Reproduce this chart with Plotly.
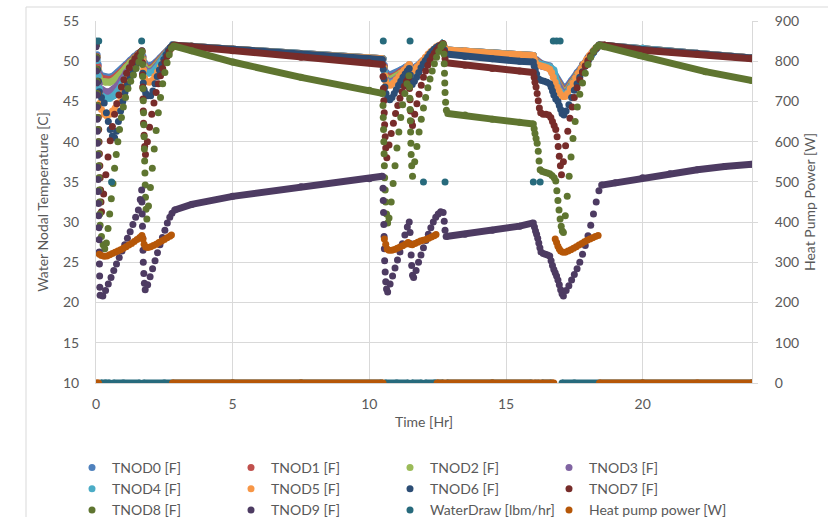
import plotly.graph_objects as go

# ---------------- data (time [h], value) ----------------
# shared time base for the upper nodes TNOD0..TNOD4 (mostly hidden under later series)
t_up = [0.0, 0.04, 0.08, 0.12, 0.2, 0.35, 0.5, 0.65, 0.8, 0.95, 1.1, 1.25, 1.4, 1.55, 1.68,
        1.72, 1.78, 1.9, 2.05, 2.2, 2.35, 2.5, 2.65, 2.8, 5.0, 7.5, 10.5, 10.55, 10.62, 10.75,
        10.95, 11.15, 11.35, 11.47, 11.53, 11.7, 11.9, 12.1, 12.3, 12.5, 12.65, 12.8, 14.5, 16.0,
        16.1, 16.3, 16.6, 16.75, 16.9, 17.05, 17.2, 17.4, 17.6, 17.8, 18.0, 18.2, 18.42, 20.0, 24.0]

TNOD0 = [52.0, 50.8, 49.6, 48.6, 48.2, 48.0, 48.0, 48.2, 48.6, 49.1, 49.6, 50.1, 50.6, 51.0, 51.3,
         50.6, 49.8, 49.4, 49.5, 49.9, 50.4, 50.9, 51.4, 52.0, 51.5, 50.9, 50.3, 49.5, 48.6, 48.3,
         48.5, 48.9, 49.3, 49.6, 49.1, 49.3, 49.9, 50.5, 51.1, 51.7, 52.1, 51.4, 51.0, 50.7,
         50.2, 49.7, 49.4, 48.6, 47.6, 46.9, 46.7, 47.6, 48.6, 49.6, 50.5, 51.3, 52.0, 51.6, 50.4]
TNOD1 = [52.0, 50.6, 49.3, 48.3, 47.9, 47.7, 47.7, 47.9, 48.3, 48.8, 49.4, 49.9, 50.4, 50.9, 51.2,
         50.4, 49.5, 49.1, 49.2, 49.7, 50.2, 50.8, 51.3, 52.0, 51.5, 50.9, 50.3, 49.3, 48.3, 48.0,
         48.2, 48.7, 49.1, 49.5, 48.9, 49.1, 49.7, 50.4, 51.0, 51.6, 52.1, 51.4, 51.0, 50.7,
         50.1, 49.6, 49.3, 48.4, 47.3, 46.6, 46.4, 47.4, 48.4, 49.5, 50.4, 51.2, 52.0, 51.6, 50.4]
TNOD2 = [52.0, 50.5, 49.0, 48.0, 47.5, 47.4, 47.4, 47.6, 48.0, 48.6, 49.2, 49.8, 50.3, 50.8, 51.2,
         50.2, 49.3, 48.9, 49.0, 49.5, 50.1, 50.7, 51.3, 52.0, 51.5, 50.9, 50.3, 49.1, 48.0, 47.7,
         48.0, 48.5, 49.0, 49.4, 48.8, 49.0, 49.6, 50.3, 51.0, 51.6, 52.1, 51.4, 51.0, 50.7,
         50.0, 49.5, 49.2, 48.2, 47.0, 46.4, 46.2, 47.2, 48.3, 49.4, 50.3, 51.2, 52.0, 51.6, 50.4]
TNOD3 = [52.0, 50.3, 48.6, 47.2, 46.5, 46.2, 46.2, 46.5, 47.0, 47.8, 48.6, 49.3, 50.0, 50.6, 51.1,
         50.0, 49.0, 48.7, 48.8, 49.3, 49.9, 50.6, 51.2, 52.0, 51.5, 50.9, 50.3, 48.9, 47.7, 47.4,
         47.7, 48.3, 48.8, 49.3, 48.7, 48.9, 49.5, 50.2, 50.9, 51.6, 52.1, 51.4, 51.0, 50.7,
         49.9, 49.4, 49.1, 48.0, 46.8, 46.2, 46.0, 47.0, 48.1, 49.3, 50.3, 51.1, 52.0, 51.6, 50.4]
TNOD4 = [52.0, 50.1, 48.2, 46.6, 45.7, 45.4, 45.4, 45.7, 46.3, 47.2, 48.1, 48.9, 49.7, 50.4, 51.0,
         49.8, 48.7, 48.5, 48.6, 49.1, 49.8, 50.5, 51.1, 52.0, 51.5, 50.9, 50.3, 48.7, 47.5, 47.2,
         47.5, 48.1, 48.7, 49.2, 48.6, 48.8, 49.4, 50.1, 50.9, 51.5, 52.1, 51.4, 51.0, 50.7,
         49.8, 49.6, 49.3, 48.9, 46.6, 46.0, 45.8, 46.9, 48.0, 49.2, 50.2, 51.1, 52.0, 51.6, 50.4]

TNOD5 = [(0.0, 52.0), (0.03, 50.5), (0.06, 49.0), (0.09, 47.5), (0.12, 46.0), (0.15, 44.8), (0.2, 44.0),
         (0.3, 43.4), (0.4, 43.2), (0.5, 43.4), (0.6, 43.8), (0.7, 44.2), (0.8, 44.8), (0.9, 45.6),
         (1.0, 46.5), (1.1, 47.3), (1.2, 48.1), (1.3, 48.8), (1.4, 49.5), (1.5, 50.1), (1.6, 50.7),
         (1.68, 51.1), (1.71, 50.0), (1.74, 48.9), (1.78, 47.9), (1.85, 47.5), (1.95, 47.4), (2.05, 47.6),
         (2.15, 48.1), (2.25, 48.7), (2.35, 49.3), (2.45, 49.9), (2.55, 50.5), (2.65, 51.1), (2.75, 51.6),
         (2.85, 52.0), (3.5, 51.9), (5.0, 51.5), (7.5, 50.9), (10.0, 50.4), (10.48, 50.3),
         (10.52, 49.2), (10.56, 48.2), (10.6, 47.5), (10.68, 47.0), (10.78, 47.0), (10.88, 47.3),
         (10.98, 47.7), (11.08, 48.1), (11.18, 48.5), (11.28, 48.9), (11.38, 49.3), (11.46, 49.6),
         (11.5, 49.0), (11.55, 48.7), (11.65, 48.9), (11.75, 49.3), (11.85, 49.7), (11.95, 50.1),
         (12.05, 50.5), (12.15, 50.9), (12.25, 51.2), (12.35, 51.5), (12.45, 51.8), (12.55, 52.0),
         (12.65, 52.1), (12.75, 51.8), (12.8, 51.4), (13.5, 51.3), (14.5, 51.0), (15.5, 50.8),
         (16.0, 50.7), (16.03, 50.3), (16.07, 49.9), (16.12, 49.6), (16.2, 49.5), (16.3, 49.4),
         (16.4, 49.3), (16.5, 49.2), (16.6, 49.0), (16.67, 48.6), (16.73, 48.0), (16.8, 47.4),
         (16.87, 46.8), (16.94, 46.3), (17.0, 45.9), (17.08, 45.6), (17.16, 45.6), (17.25, 46.0),
         (17.35, 46.6), (17.45, 47.3), (17.55, 47.9), (17.65, 48.5), (17.75, 49.1), (17.85, 49.7),
         (17.95, 50.2), (18.05, 50.7), (18.15, 51.1), (18.25, 51.5), (18.35, 51.8), (18.42, 52.0),
         (18.6, 52.0), (19.9, 51.5), (22.0, 50.9), (24.0, 50.4)]

TNOD6 = [(0.0, 52.0), (0.03, 50.5), (0.06, 49.0), (0.09, 47.5), (0.12, 46.2), (0.2, 45.5), (0.3, 44.8),
         (0.38, 43.6), (0.45, 42.5), (0.52, 41.5), (0.6, 40.7), (0.68, 40.5), (0.75, 41.3), (0.82, 42.5),
         (0.9, 43.8), (0.98, 45.0), (1.06, 46.1), (1.15, 47.1), (1.25, 48.0), (1.35, 48.8), (1.45, 49.6),
         (1.55, 50.3), (1.65, 51.0), (1.69, 49.8), (1.71, 48.5), (1.73, 47.3), (1.76, 46.5), (1.82, 46.0),
         (1.9, 45.7), (2.0, 45.7), (2.08, 46.3), (2.16, 47.2), (2.24, 48.1), (2.32, 48.9), (2.4, 49.6),
         (2.48, 50.2), (2.56, 50.8), (2.64, 51.3), (2.72, 51.7), (2.8, 52.0), (3.5, 51.9), (5.0, 51.5),
         (7.5, 50.9), (10.0, 50.3), (10.48, 50.2), (10.51, 49.0), (10.54, 47.8), (10.57, 46.8),
         (10.61, 46.0), (10.67, 45.4), (10.75, 45.2), (10.83, 45.5), (10.91, 46.0), (10.99, 46.5),
         (11.07, 47.0), (11.15, 47.5), (11.23, 48.0), (11.31, 48.4), (11.39, 48.8), (11.46, 49.1),
         (11.5, 48.3), (11.53, 47.5), (11.57, 47.1), (11.65, 47.5), (11.73, 48.0), (11.81, 48.6),
         (11.89, 49.2), (11.97, 49.7), (12.05, 50.1), (12.13, 50.5), (12.21, 50.9), (12.29, 51.2),
         (12.37, 51.5), (12.45, 51.7), (12.53, 51.9), (12.61, 52.0), (12.7, 52.1), (12.75, 51.4),
         (12.8, 50.9), (13.5, 50.6), (14.5, 50.3), (15.5, 50.0), (16.0, 49.9), (16.03, 49.4),
         (16.07, 48.9), (16.12, 48.4), (16.2, 47.8), (16.3, 47.6), (16.4, 47.5), (16.5, 47.4),
         (16.6, 47.2), (16.65, 46.8), (16.7, 46.3), (16.75, 45.8), (16.82, 45.3), (16.9, 45.0),
         (16.95, 44.5), (17.0, 44.0), (17.05, 43.5), (17.12, 43.3), (17.2, 43.8), (17.3, 44.6),
         (17.4, 45.5), (17.5, 46.4), (17.6, 47.2), (17.7, 48.0), (17.8, 48.7), (17.9, 49.4),
         (18.0, 50.0), (18.1, 50.6), (18.2, 51.1), (18.3, 51.6), (18.4, 52.0), (18.6, 52.0),
         (19.9, 51.5), (22.0, 51.0), (24.0, 50.4)]

TNOD7 = [(0.0, 52.0), (0.014, 50.5), (0.028, 49.0), (0.042, 47.5), (0.056, 46.0), (0.07, 44.5),
         (0.084, 43.0), (0.098, 41.5), (0.112, 40.0), (0.126, 38.5), (0.14, 37.0), (0.154, 35.5),
         (0.168, 34.0), (0.182, 32.5), (0.2, 31.3), (0.28, 33.5), (0.36, 35.9), (0.44, 38.1),
         (0.52, 40.1), (0.6, 41.9), (0.68, 43.4), (0.76, 44.7), (0.84, 45.8), (0.93, 46.8),
         (1.02, 47.7), (1.12, 48.5), (1.22, 49.2), (1.32, 49.8), (1.42, 50.3), (1.52, 50.7),
         (1.62, 51.1), (1.68, 51.3), (1.69, 49.8), (1.7, 48.3), (1.71, 46.8), (1.72, 45.3),
         (1.73, 43.8), (1.74, 42.3), (1.76, 40.8), (1.78, 39.4), (1.81, 38.4), (1.88, 40.0),
         (1.96, 41.8), (2.04, 43.4), (2.12, 44.8), (2.2, 46.1), (2.28, 47.2), (2.36, 48.2),
         (2.44, 49.1), (2.52, 49.9), (2.6, 50.6), (2.68, 51.2), (2.76, 51.7), (2.84, 52.0),
         (3.5, 51.8), (5.0, 51.3), (7.5, 50.5), (10.0, 49.8), (10.48, 49.6), (10.5, 48.1),
         (10.515, 46.6), (10.53, 45.1), (10.545, 43.6), (10.56, 42.1), (10.58, 40.6), (10.6, 39.2),
         (10.64, 38.0), (10.72, 39.6), (10.8, 41.0), (10.88, 42.3), (10.96, 43.5), (11.04, 44.5),
         (11.12, 45.4), (11.2, 46.2), (11.28, 46.9), (11.36, 47.5), (11.44, 48.0), (11.47, 46.6),
         (11.49, 45.2), (11.51, 43.8), (11.54, 42.5), (11.58, 42.0), (11.66, 43.4), (11.74, 44.7),
         (11.82, 45.9), (11.9, 47.0), (11.98, 48.0), (12.06, 48.8), (12.14, 49.5), (12.22, 50.1),
         (12.3, 50.6), (12.38, 51.0), (12.46, 51.4), (12.54, 51.7), (12.62, 52.0), (12.7, 52.2),
         (12.74, 51.2), (12.77, 50.3), (12.81, 49.8), (13.5, 49.5), (14.5, 49.1), (15.5, 48.8),
         (16.0, 48.6), (16.03, 48.0), (16.06, 47.4), (16.1, 46.8), (16.14, 46.0), (16.18, 45.1),
         (16.22, 44.2), (16.27, 43.6), (16.36, 43.4), (16.46, 43.4), (16.56, 43.3), (16.64, 43.0),
         (16.7, 42.5), (16.76, 42.0), (16.82, 41.5), (16.87, 40.6), (16.91, 39.4), (16.95, 38.2),
         (16.99, 37.0), (17.03, 35.9), (17.1, 37.5), (17.18, 39.5), (17.26, 41.3), (17.34, 42.9),
         (17.42, 44.3), (17.5, 45.5), (17.6, 46.7), (17.7, 47.7), (17.8, 48.6), (17.9, 49.4),
         (18.0, 50.1), (18.1, 50.7), (18.2, 51.2), (18.3, 51.6), (18.4, 52.0), (18.6, 52.0),
         (19.9, 51.4), (22.0, 50.9), (24.0, 50.3)]

TNOD8 = [(0.0, 52.0), (0.01, 50.5), (0.02, 49.0), (0.03, 47.5), (0.04, 46.0), (0.05, 44.5), (0.06, 43.0),
         (0.07, 41.5), (0.08, 40.0), (0.09, 38.5), (0.1, 37.0), (0.11, 35.5), (0.12, 34.0), (0.13, 32.5),
         (0.14, 31.0), (0.15, 29.6), (0.2, 28.2), (0.26, 27.2), (0.32, 26.7), (0.38, 27.4), (0.44, 29.2),
         (0.5, 31.0), (0.56, 32.9), (0.62, 34.8), (0.68, 36.7), (0.74, 38.4), (0.8, 40.0), (0.86, 41.5),
         (0.93, 43.0), (1.0, 44.3), (1.08, 45.5), (1.17, 46.6), (1.27, 47.5), (1.37, 48.3), (1.47, 49.1),
         (1.57, 49.9), (1.64, 50.6), (1.68, 51.2), (1.7, 49.6), (1.71, 48.1), (1.72, 46.6), (1.73, 45.1),
         (1.74, 43.6), (1.75, 42.1), (1.76, 40.6), (1.77, 39.1), (1.78, 37.6), (1.79, 36.1), (1.8, 34.6),
         (1.81, 33.1), (1.83, 31.6), (1.86, 30.4), (1.92, 32.0), (1.99, 34.3), (2.06, 36.7), (2.13, 39.1),
         (2.2, 41.4), (2.28, 43.6), (2.36, 45.5), (2.44, 47.2), (2.52, 48.6), (2.6, 49.8), (2.68, 50.8),
         (2.76, 51.6), (2.84, 51.9), (3.5, 51.3), (5.0, 49.9), (7.5, 48.0), (10.0, 46.4), (10.48, 46.0),
         (10.5, 44.5), (10.51, 43.0), (10.52, 41.5), (10.53, 40.0), (10.54, 38.5), (10.55, 37.0),
         (10.56, 35.5), (10.58, 34.0), (10.6, 32.5), (10.63, 31.0), (10.67, 29.9), (10.72, 30.5),
         (10.8, 32.5), (10.87, 34.8), (10.94, 37.0), (11.01, 39.2), (11.08, 41.2), (11.15, 43.0),
         (11.22, 44.6), (11.3, 46.0), (11.38, 47.2), (11.45, 48.2), (11.47, 46.8), (11.48, 45.4),
         (11.49, 44.0), (11.5, 42.6), (11.51, 41.2), (11.52, 39.8), (11.53, 38.4), (11.55, 37.0),
         (11.58, 35.7), (11.66, 37.5), (11.74, 39.4), (11.82, 41.2), (11.9, 42.8), (11.98, 44.2),
         (12.06, 45.5), (12.14, 46.7), (12.22, 47.8), (12.3, 48.8), (12.38, 49.7), (12.46, 50.5),
         (12.54, 51.2), (12.62, 51.8), (12.7, 52.1), (12.73, 50.9), (12.74, 49.7), (12.75, 48.5),
         (12.76, 47.3), (12.77, 46.1), (12.79, 44.9), (12.82, 43.9), (12.87, 43.5), (13.5, 43.3),
         (14.5, 42.8), (15.5, 42.4), (16.0, 42.2), (16.03, 41.6), (16.06, 41.0), (16.1, 40.4),
         (16.14, 39.8), (16.18, 38.8), (16.21, 37.6), (16.25, 36.5), (16.33, 36.3), (16.42, 36.2),
         (16.51, 36.1), (16.6, 36.0), (16.68, 35.8), (16.76, 35.5), (16.82, 35.1), (16.86, 33.9),
         (16.9, 32.7), (16.94, 31.5), (16.98, 30.4), (17.02, 29.5), (17.06, 28.9), (17.1, 28.7),
         (17.17, 30.8), (17.24, 33.2), (17.31, 35.7), (17.38, 38.1), (17.45, 40.4), (17.53, 42.5),
         (17.61, 44.3), (17.7, 45.9), (17.8, 47.3), (17.9, 48.5), (18.0, 49.6), (18.1, 50.5),
         (18.2, 51.2), (18.3, 51.7), (18.4, 52.0), (18.6, 51.8), (19.9, 50.7), (22.3, 48.7),
         (24.0, 47.6)]

TNOD9 = [(0.0, 51.8), (0.007, 50.3), (0.014, 48.8), (0.021, 47.3), (0.028, 45.8), (0.035, 44.3),
         (0.042, 42.8), (0.049, 41.3), (0.056, 39.8), (0.063, 38.3), (0.07, 36.8), (0.077, 35.3),
         (0.084, 33.8), (0.091, 32.3), (0.098, 30.8), (0.105, 29.3), (0.112, 27.8), (0.119, 26.3),
         (0.126, 24.8), (0.133, 23.3), (0.14, 21.9), (0.15, 20.9), (0.25, 20.8), (0.35, 21.5),
         (0.45, 22.3), (0.55, 23.1), (0.65, 24.0), (0.75, 24.8), (0.85, 25.6), (0.95, 26.4),
         (1.05, 27.2), (1.15, 28.0), (1.25, 28.8), (1.35, 29.7), (1.45, 30.6), (1.55, 31.5),
         (1.62, 32.8), (1.67, 34.0), (1.68, 32.5), (1.69, 31.0), (1.7, 29.5), (1.71, 28.0),
         (1.72, 26.5), (1.73, 25.0), (1.75, 23.6), (1.77, 22.4), (1.8, 21.6), (1.89, 22.2),
         (1.98, 23.2), (2.07, 24.2), (2.16, 25.2), (2.25, 26.2), (2.34, 27.2), (2.43, 28.1),
         (2.52, 29.0), (2.61, 29.9), (2.7, 30.6), (2.78, 31.1), (2.88, 31.5), (3.5, 32.2),
         (5.0, 33.2), (7.5, 34.4), (10.0, 35.4), (10.48, 35.7), (10.5, 34.2), (10.51, 32.7),
         (10.52, 31.2), (10.53, 29.7), (10.54, 28.2), (10.55, 26.7), (10.56, 25.2), (10.58, 23.8),
         (10.6, 22.6), (10.63, 21.7), (10.67, 21.3), (10.76, 22.3), (10.85, 23.3), (10.94, 24.3),
         (11.03, 25.3), (11.12, 26.3), (11.21, 27.3), (11.3, 28.4), (11.39, 29.4), (11.46, 30.0),
         (11.49, 28.7), (11.51, 27.3), (11.53, 25.9), (11.55, 24.6), (11.58, 23.4), (11.62, 23.1),
         (11.71, 24.0), (11.8, 25.0), (11.89, 25.9), (11.98, 26.8), (12.07, 27.7), (12.16, 28.5),
         (12.25, 29.3), (12.34, 30.0), (12.43, 30.6), (12.52, 31.0), (12.61, 31.3), (12.7, 31.2),
         (12.74, 30.1), (12.77, 29.0), (12.81, 28.2), (13.5, 28.5), (14.5, 29.0), (15.5, 29.5),
         (16.0, 29.9), (16.04, 29.4), (16.08, 28.9), (16.12, 28.5), (16.16, 28.0), (16.2, 27.4),
         (16.24, 26.8), (16.28, 26.3), (16.36, 26.1), (16.44, 26.0), (16.52, 25.9), (16.6, 25.8),
         (16.65, 25.2), (16.7, 24.6), (16.75, 24.1), (16.8, 23.7), (16.85, 23.3), (16.9, 22.8),
         (16.95, 22.2), (17.0, 21.6), (17.05, 21.1), (17.1, 20.8), (17.2, 21.5), (17.3, 22.1),
         (17.4, 22.8), (17.5, 23.5), (17.6, 24.2), (17.7, 25.0), (17.8, 26.0), (17.9, 27.1),
         (18.0, 28.3), (18.1, 29.6), (18.2, 31.0), (18.3, 32.5), (18.4, 33.9), (18.5, 34.6),
         (19.0, 34.9), (20.0, 35.5), (21.0, 36.0), (22.0, 36.5), (23.0, 36.9), (24.0, 37.2)]

WATER_DRAW = [(0.0, 850), (0.1, 850), (0.18, 0), (0.35, 0), (0.5, 0), (0.57, 500), (0.64, 0), (1.0, 0),
              (1.6, 0), (1.67, 850), (1.74, 0), (2.5, 0), (5.0, 0), (7.5, 0), (10.44, 0), (10.51, 850),
              (10.58, 0), (11.0, 0), (11.42, 0), (11.49, 850), (11.56, 0), (11.91, 0), (11.98, 500),
              (12.05, 0), (12.4, 0), (12.7, 0), (12.77, 500), (12.84, 0), (14.5, 0), (15.93, 0),
              (16.0, 500), (16.07, 0), (16.18, 0), (16.25, 500), (16.32, 0), (16.66, 0), (16.73, 850),
              (16.85, 850), (16.98, 850), (17.05, 0), (17.5, 0), (20.0, 0), (24.0, 0)]

HP_POWER = [(0.0, 0), (0.05, 0), (0.09, 0),
            (0.12, 320), (0.2, 317), (0.3, 315), (0.4, 316), (0.5, 319), (0.6, 322), (0.7, 325),
            (0.8, 328), (0.9, 331), (1.0, 335), (1.1, 339), (1.2, 343), (1.3, 347), (1.4, 352),
            (1.5, 357), (1.6, 362), (1.68, 367), (1.72, 358), (1.76, 345), (1.82, 338), (1.9, 337),
            (2.0, 339), (2.1, 342), (2.2, 345), (2.3, 349), (2.4, 353), (2.5, 357), (2.6, 361),
            (2.7, 365), (2.76, 368),
            (2.8, 0), (5.0, 0), (7.5, 0), (10.5, 0),
            (10.55, 358), (10.6, 345), (10.65, 333), (10.72, 330), (10.82, 330), (10.92, 332),
            (11.02, 335), (11.12, 338), (11.22, 341), (11.32, 345), (11.42, 349), (11.5, 345),
            (11.57, 344), (11.67, 347), (11.77, 350), (11.87, 353), (11.97, 355), (12.07, 357),
            (12.17, 360), (12.27, 363), (12.37, 366), (12.44, 369),
            (12.48, 0), (14.5, 0), (16.75, 0),
            (16.8, 358), (16.85, 349), (16.9, 340), (16.95, 333), (17.0, 328), (17.08, 325),
            (17.17, 325), (17.27, 328), (17.37, 331), (17.47, 335), (17.57, 339), (17.67, 343),
            (17.77, 347), (17.87, 351), (17.97, 355), (18.07, 358), (18.17, 361), (18.27, 364),
            (18.37, 367),
            (18.42, 0), (20.0, 0), (22.0, 0), (24.0, 0)]

# (legend text, points, colour, y axis, legend column)
SERIES = [
    ("TNOD0 [F]", list(zip(t_up, TNOD0)), "#4F81BD", "y", "legend"),
    ("TNOD1 [F]", list(zip(t_up, TNOD1)), "#C0504D", "y", "legend2"),
    ("TNOD2 [F]", list(zip(t_up, TNOD2)), "#9BBB59", "y", "legend3"),
    ("TNOD3 [F]", list(zip(t_up, TNOD3)), "#8064A2", "y", "legend4"),
    ("TNOD4 [F]", list(zip(t_up, TNOD4)), "#4BACC6", "y", "legend"),
    ("TNOD5 [F]", TNOD5, "#F79646", "y", "legend2"),
    ("TNOD6 [F]", TNOD6, "#2C4D75", "y", "legend3"),
    ("TNOD7 [F]", TNOD7, "#772C2A", "y", "legend4"),
    ("TNOD8 [F]", TNOD8, "#5F7530", "y", "legend"),
    ("TNOD9 [F]", TNOD9, "#4D3B62", "y", "legend2"),
    ("WaterDraw [lbm/hr]", WATER_DRAW, "#276A7C", "y2", "legend3"),
    ("Heat pump power [W]", HP_POWER, "#B65708", "y2", "legend4"),
]

X_TICKS = [0, 5, 10, 15, 20]
Y_TICKS = [10, 15, 20, 25, 30, 35, 40, 45, 50, 55]
Y2_TICKS = [0, 100, 200, 300, 400, 500, 600, 700, 800, 900]

FONT = "Lato, 'Open Sans', sans-serif"
GREY = "#595959"
GRID = "#D9D9D9"
MS = 7        # marker diameter (px)
GAP = 0.149   # long time steps -> overlapping dots, drawn as a solid band

fig = go.Figure()
for name, pts, color, yax, leg in SERIES:
    t = [p[0] for p in pts]
    v = [p[1] for p in pts]
    # consecutive points far apart in time are joined by a band as wide as the dots
    lx, ly = [], []
    run = False
    for i in range(len(t) - 1):
        if t[i + 1] - t[i] >= GAP:
            if not run:
                lx.append(t[i]); ly.append(v[i])
            lx.append(t[i + 1]); ly.append(v[i + 1])
            run = True
        elif run:
            lx.append(None); ly.append(None)
            run = False
    fig.add_trace(go.Scatter(x=lx, y=ly, mode="lines", yaxis=yax, showlegend=False,
                             hoverinfo="skip", line=dict(color=color, width=MS)))
    fig.add_trace(go.Scatter(x=t, y=v, mode="markers", name=name, yaxis=yax, legend=leg,
                             marker=dict(color=color, size=MS, line=dict(width=0))))

W, H = 828, 517
L, R, T, B = 96, 76, 21, 134
pw, ph = W - L - R, H - T - B

def px_x(px):
    return (px - L) / pw

def px_y(py):
    return (H - B - py) / ph

def legend_col(left_px):
    return dict(orientation="v", x=px_x(left_px), xanchor="left", y=px_y(452), yanchor="top",
                font=dict(size=14, color=GREY), bgcolor="rgba(0,0,0,0)", itemsizing="trace",
                tracegroupgap=0)

fig.update_layout(
    width=W, height=H,
    margin=dict(l=L, r=R, t=T, b=B, autoexpand=False),
    paper_bgcolor="white", plot_bgcolor="white",
    font=dict(family=FONT, size=14, color=GREY),
    showlegend=True,
    legend=legend_col(72), legend2=legend_col(231), legend3=legend_col(390),
    legend4=legend_col(549),
    xaxis=dict(range=[0, 24], tickmode="array", tickvals=X_TICKS, showgrid=True, gridcolor=GRID,
               gridwidth=1, zeroline=False, showline=True, linecolor=GRID, linewidth=1,
               ticks="", ticklabelstandoff=8, tickfont=dict(size=14, color=GREY),
               title=dict(text="Time [Hr]", standoff=6, font=dict(size=14, color=GREY))),
    yaxis=dict(range=[10, 55], tickmode="array", tickvals=Y_TICKS, showgrid=True, gridcolor=GRID,
               gridwidth=1, zeroline=False, showline=True, linecolor=GRID, linewidth=1,
               ticks="", ticklabelstandoff=13, tickfont=dict(size=14, color=GREY),
               title=dict(text="Water Nodal Temperature [C]", standoff=11,
                          font=dict(size=14, color=GREY))),
    yaxis2=dict(range=[0, 900], tickmode="array", tickvals=Y2_TICKS, overlaying="y", side="right",
                showgrid=False, zeroline=False, showline=True, linecolor=GRID, linewidth=1,
                ticks="outside", ticklen=5, tickcolor=GRID, ticklabelstandoff=14,
                tickfont=dict(size=14, color=GREY),
                title=dict(text="Heat Pump Power [W]", standoff=7, font=dict(size=14, color=GREY))),
    shapes=[dict(type="rect", xref="paper", yref="paper", x0=px_x(26), x1=px_x(832),
                 y0=px_y(521), y1=px_y(7), line=dict(color=GRID, width=1), layer="below")],
)

# the page's default 8px body margin would shift the chart; remove it
fig.write_html("out.html", config={"displayModeBar": False},
               post_script="document.body.style.margin='0';document.body.style.overflow='hidden';")
